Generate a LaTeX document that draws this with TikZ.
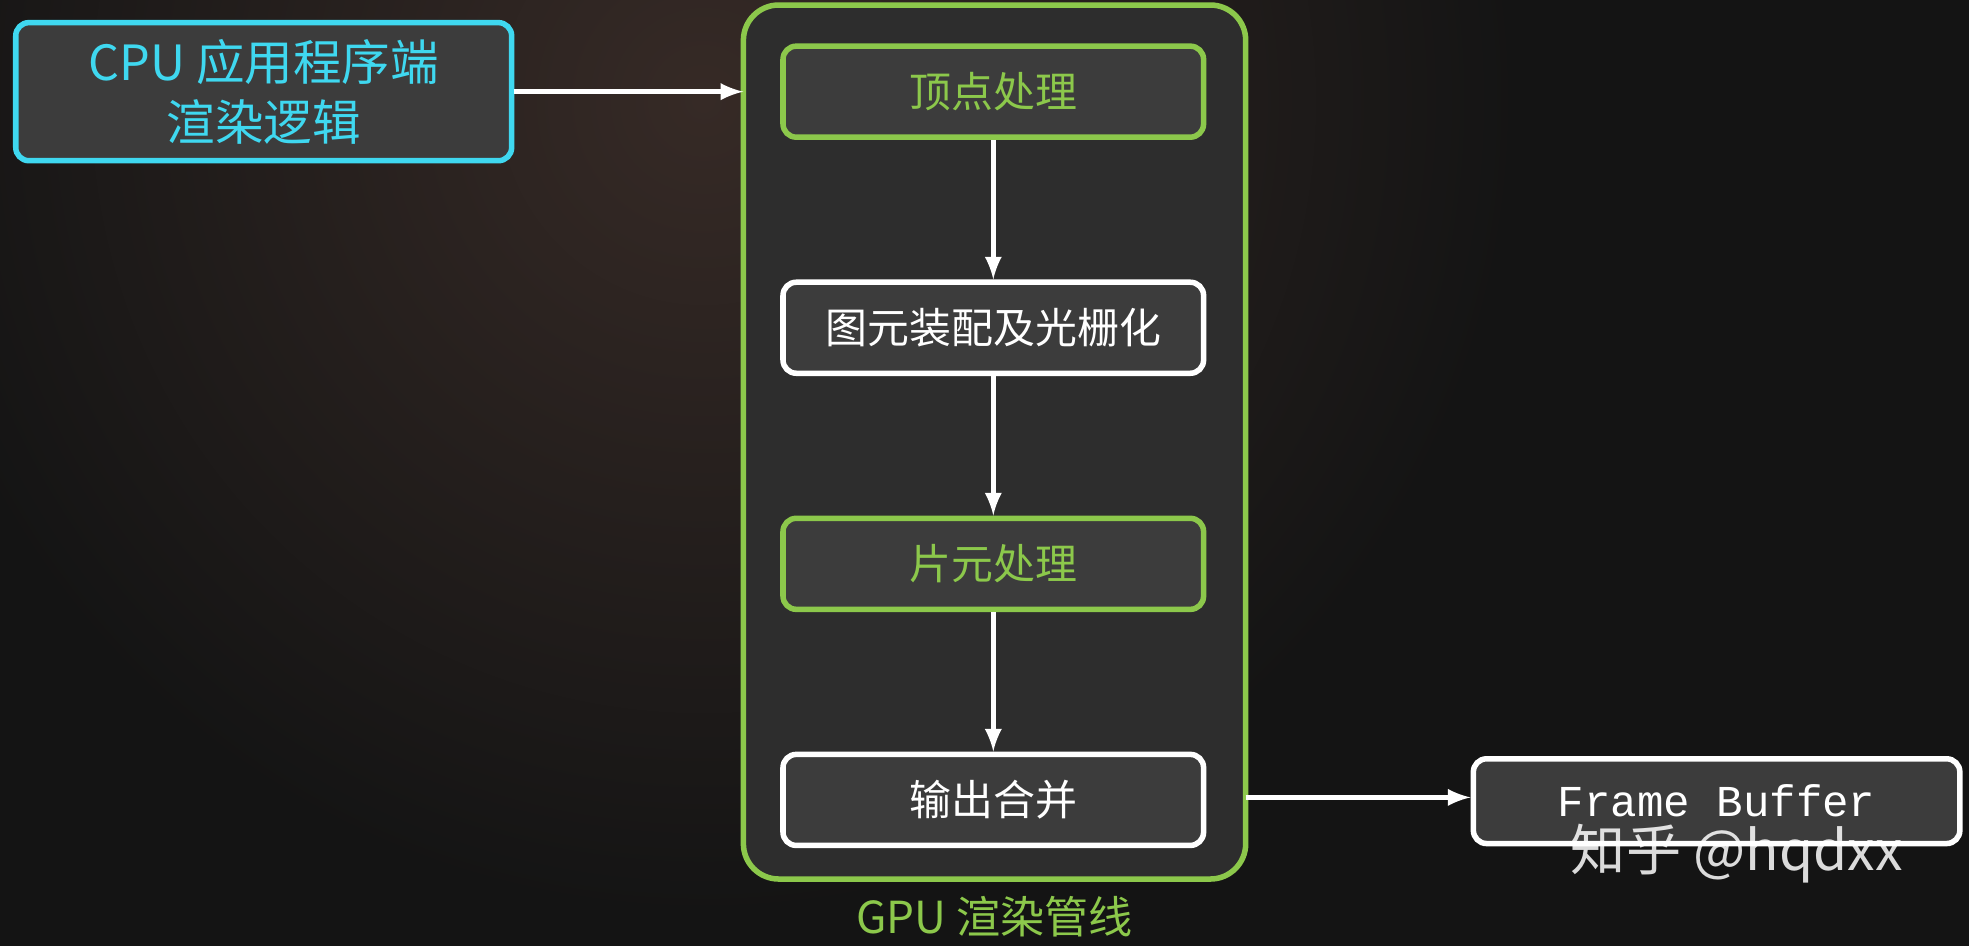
\documentclass[tikz,border=0pt]{standalone}
\usepackage{fontspec}
\setmainfont{Noto Sans CJK SC}
\newfontfamily\monofont{Liberation Mono}
\usetikzlibrary{positioning}
\definecolor{cpucyan}{HTML}{3FD8F0}
\definecolor{gpugreen}{HTML}{8CC84B}
\definecolor{boxfill}{HTML}{3C3C3C}
\definecolor{pipefill}{HTML}{2D2D2D}
\definecolor{bgdark}{HTML}{141414}
\definecolor{bgglow}{HTML}{362A26}
\tikzset{
  stage/.style={draw=#1, line width=2.5pt, rounded corners=6pt, fill=boxfill,
    minimum width=6.7cm, minimum height=1.45cm, text=#1,
    font=\fontsize{19}{22}\selectfont},
  flow/.style={->, >=latex, white, line width=2.5pt}
}
\begin{document}
\begin{tikzpicture}[x=0.02cm, y=-0.02cm]
    % background
    \useasboundingbox (0,0) rectangle (1568,753);
    \fill[bgdark] (0,0) rectangle (1568,753);
    \begin{scope}
      \clip (0,0) rectangle (1568,753);
      \shade[inner color=bgglow, outer color=bgdark] (560,80) circle (650);
    \end{scope}
    % cpu side
    \node[stage=cpucyan, minimum width=7.9cm, minimum height=2.2cm, align=center,
        font=\fontsize{22}{27}\selectfont] (cpu) at (210,73) {CPU 应用程序端\\渲染逻辑};
    % gpu pipeline
    \draw[gpugreen, line width=2.5pt, rounded corners=16pt, fill=pipefill] (592,4) rectangle (992,700);
    \coordinate (gpuin) at (592,73);
    \coordinate (gpuout) at (992,635);
    \node[stage=gpugreen] (vert) at (791,73) {顶点处理};
    \node[stage=white] (raster) at (791,261) {图元装配及光栅化};
    \node[stage=gpugreen] (frag) at (791,449) {片元处理};
    \node[stage=white] (merge) at (791,637) {输出合并};
    \node[text=gpugreen, font=\fontsize{20}{23}\selectfont] (gpulabel) at (792,730) {GPU 渲染管线};
    % output
    \node[stage=white, minimum width=7.75cm, minimum height=1.35cm,
        font=\fontsize{20}{23}\monofont] (fb) at (1367,638) {Frame Buffer};
    % arrows
    \draw[flow] (cpu.east) -- (gpuin);
    \draw[flow] (vert) -- (raster);
    \draw[flow] (raster) -- (frag);
    \draw[flow] (frag) -- (merge);
    \draw[flow] (gpuout) -- (fb.west |- gpuout);
    % watermark
    \node[text=white, opacity=0.85, font=\fontsize{25}{28}\selectfont] (mark) at (1383,680) {知乎 @hqdxx};
\end{tikzpicture}
\end{document}
